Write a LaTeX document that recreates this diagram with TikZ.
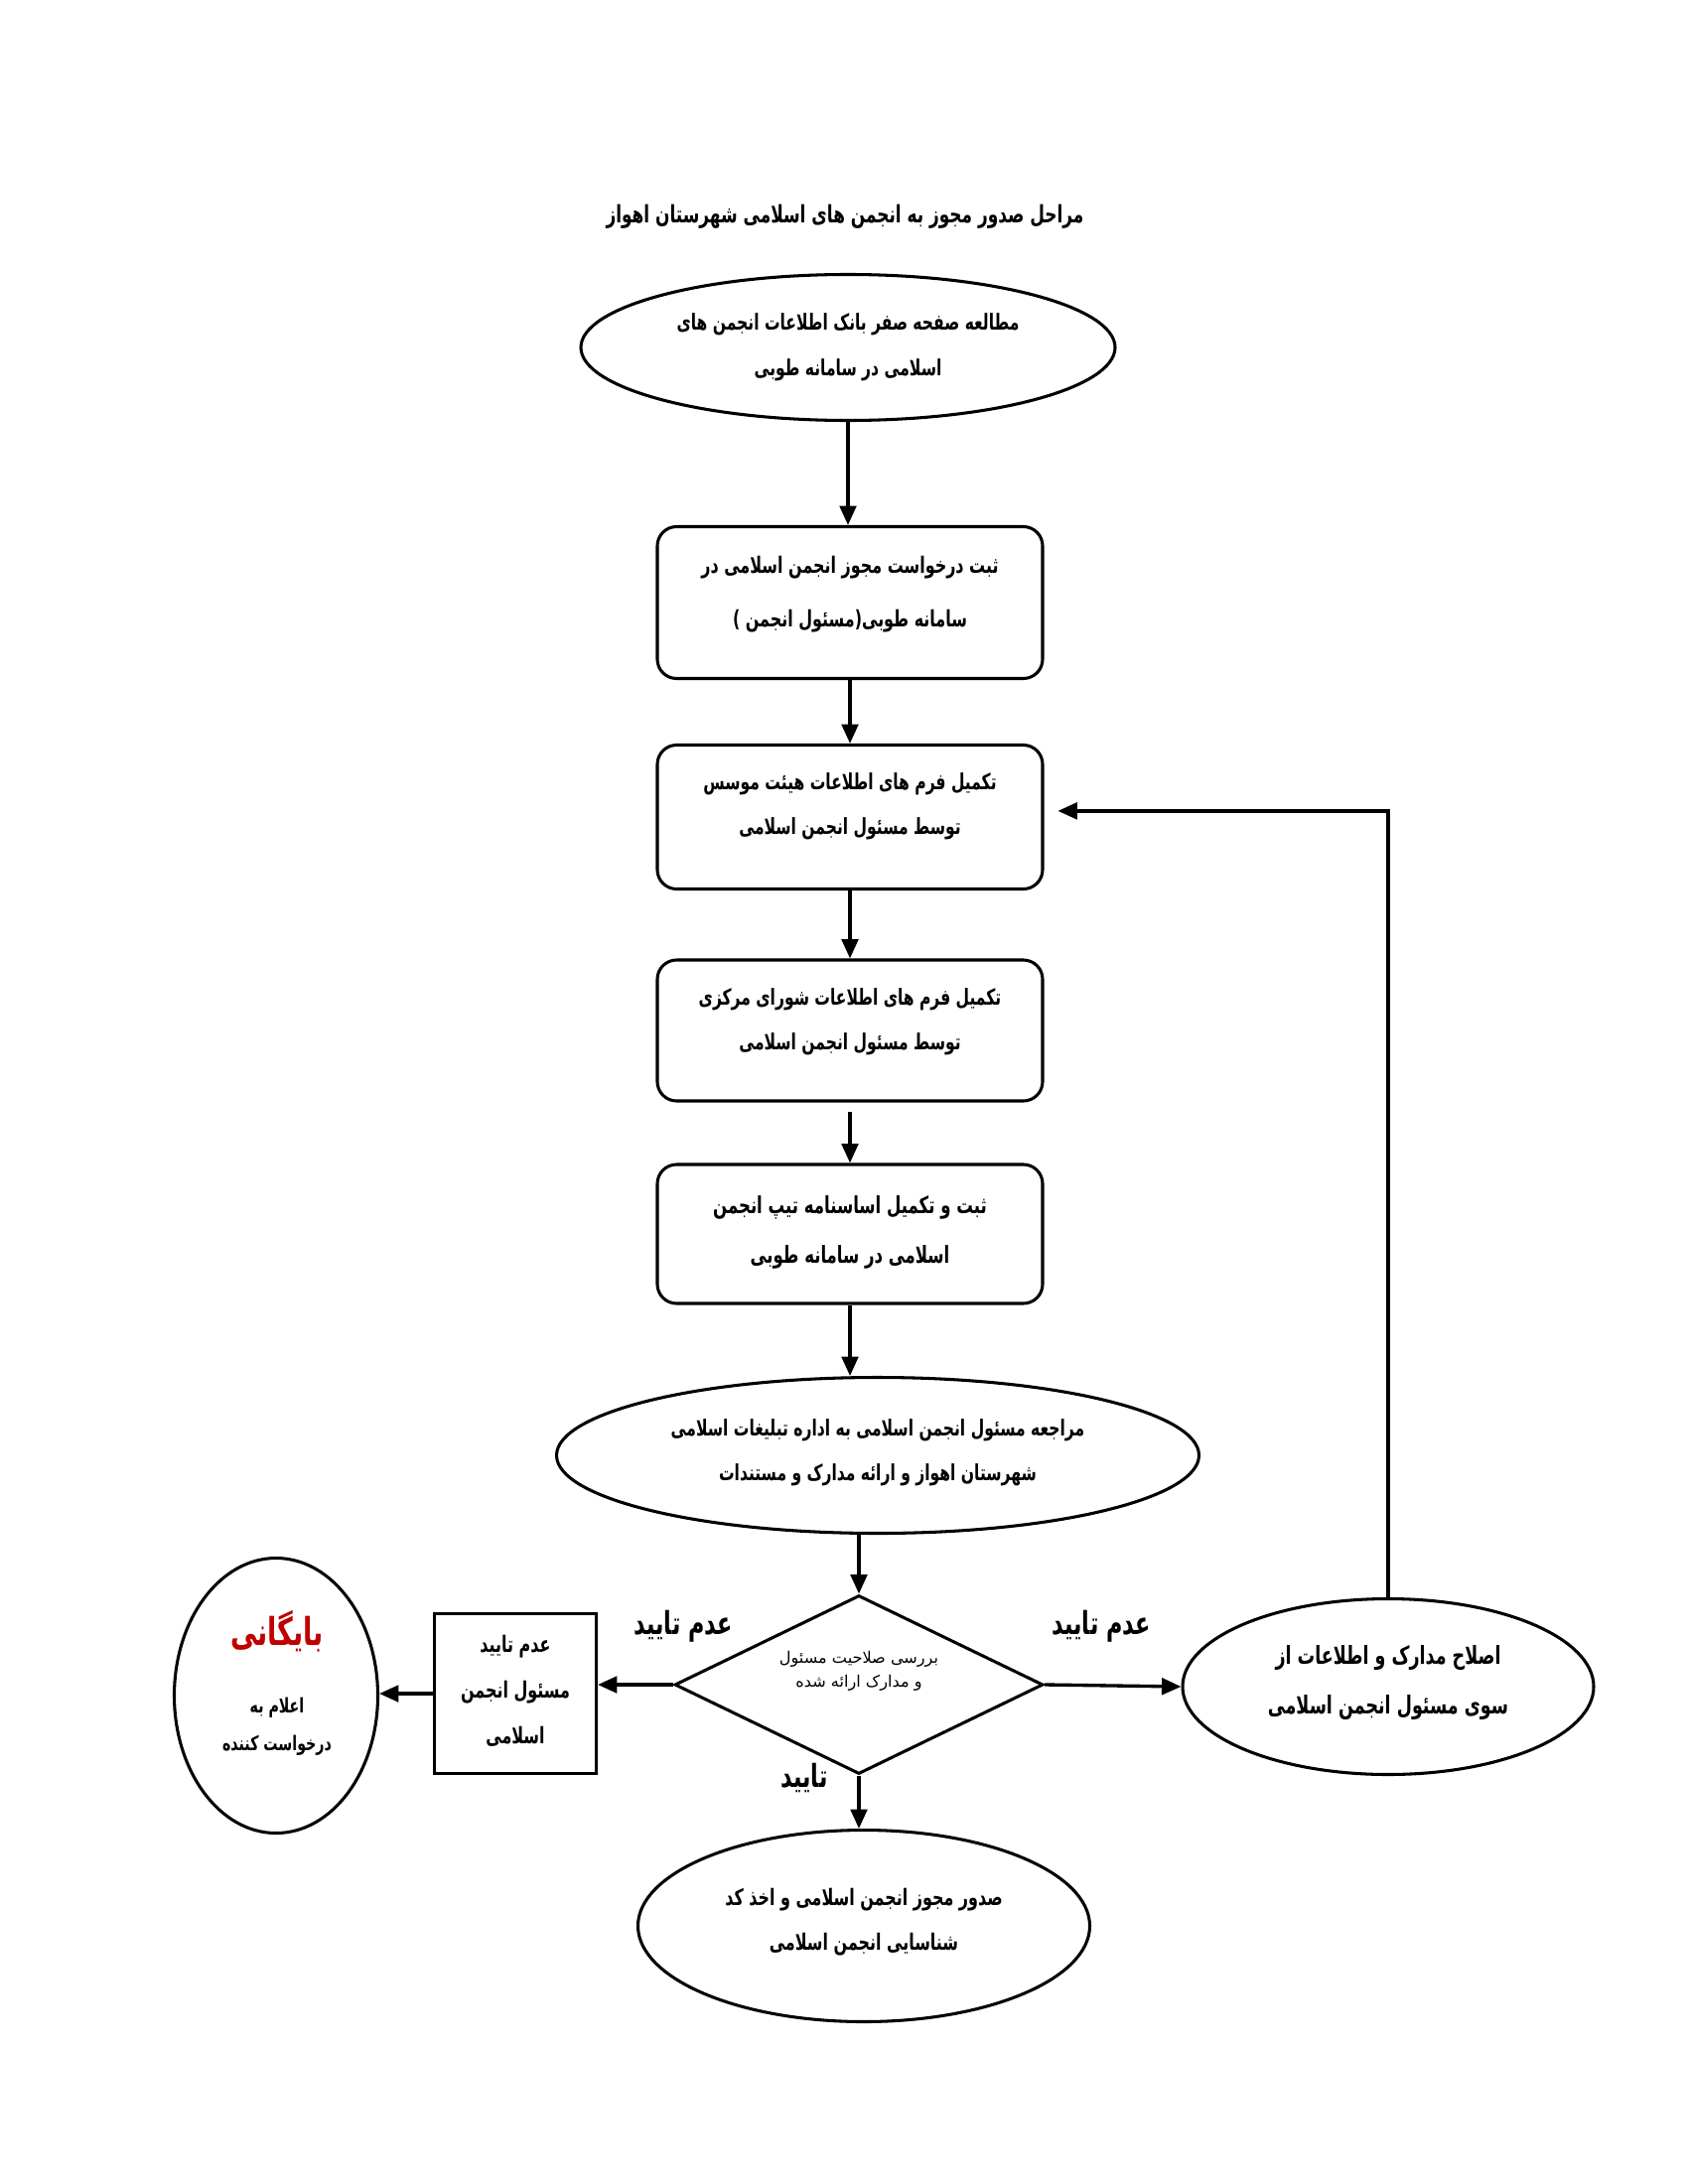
\documentclass[tikz,border=0pt]{standalone}
\usepackage{fontspec}
\usetikzlibrary{shapes.geometric,arrows.meta}
\newfontfamily\arabicfont[Script=Arabic,FakeStretch=0.7]{DejaVu Sans}
\newfontfamily\arabicplain[Script=Arabic]{DejaVu Sans}
\TeXXeTstate=1
\newcommand{\rtl}[1]{\beginR #1\endR}
\newcommand{\fs}[2]{\fontsize{#1}{#2}\selectfont}
\definecolor{archred}{HTML}{C00000}
\begin{document}
\begin{tikzpicture}[x=0.36pt,y=-0.36pt,
  shp/.style={draw, line width=1.1pt, inner sep=0pt},
  ell/.style={ellipse, shp},
  rbox/.style={rectangle, rounded corners=7pt, shp, minimum width={388*0.36pt}},
  sbox/.style={rectangle, shp},
  dec/.style={diamond, shp, aspect=2},
  txt/.style={inner sep=0pt, align=center, font=\arabicfont\bfseries},
  lbl/.style={inner sep=0pt, font=\arabicfont\bfseries\fs{11.5}{13}},
  arr/.style={-{Triangle[length=7pt,width=6pt]}, line width=1.2pt}
]
\useasboundingbox (0,0) rectangle (1700,2200);
\fill[white] (0,0) rectangle (1700,2200);

% title
\node[txt, font=\arabicfont\bfseries\fs{8.7}{11}] (title) at (851,218)
  {\rtl{مراحل صدور مجوز به انجمن های اسلامی شهرستان اهواز}};

% shapes
\node[ell, minimum width={538*0.36pt}, minimum height={147*0.36pt}] (e1) at (854,350) {};
\node[rbox, minimum height={153*0.36pt}] (b2) at (856,607) {};
\node[rbox, minimum height={145*0.36pt}] (b3) at (856,823) {};
\node[rbox, minimum height={142*0.36pt}] (b4) at (856,1038) {};
\node[rbox, minimum height={140*0.36pt}] (b5) at (856,1243) {};
\node[ell, minimum width={647*0.36pt}, minimum height={157*0.36pt}] (e6) at (884,1466) {};
\node[dec, minimum width={371*0.36pt}, minimum height={180*0.36pt}] (d) at (865,1697) {};
\node[sbox, minimum width={163*0.36pt}, minimum height={161*0.36pt}] (b7) at (519,1706) {};
\node[ell, minimum width={205*0.36pt}, minimum height={277*0.36pt}] (e9) at (278,1708) {};
\node[ell, minimum width={414*0.36pt}, minimum height={177*0.36pt}] (e8) at (1398,1699) {};
\node[ell, minimum width={455*0.36pt}, minimum height={193*0.36pt}] (e10) at (870,1940) {};

% texts
\node[txt, font=\arabicfont\bfseries\fs{8}{16.7}] (e1t) at (e1.center)
  {\rtl{مطالعه صفحه صفر بانک اطلاعات انجمن های}\\\rtl{اسلامی در سامانه طوبی}};
\node[txt, font=\arabicfont\bfseries\fs{8.2}{19.7}] (b2t) at ([yshift=3pt]b2.center)
  {\rtl{ثبت درخواست مجوز انجمن اسلامی در}\\\rtl{سامانه طوبی\beginL(\endL مسئول انجمن \beginL)\endL}};
\node[txt, font=\arabicfont\bfseries\fs{8}{16.2}] (b3t) at ([yshift=3.8pt]b3.center)
  {\rtl{تکمیل فرم های اطلاعات هیئت موسس}\\\rtl{توسط مسئول انجمن اسلامی}};
\node[txt, font=\arabicfont\bfseries\fs{8}{16.2}] (b4t) at ([yshift=3.3pt]b4.center)
  {\rtl{تکمیل فرم های اطلاعات شورای مرکزی}\\\rtl{توسط مسئول انجمن اسلامی}};
\node[txt, font=\arabicfont\bfseries\fs{8.5}{18.2}] (b5t) at ([yshift=0.5pt]b5.center)
  {\rtl{ثبت و تکمیل اساسنامه تیپ انجمن}\\\rtl{اسلامی در سامانه طوبی}};
\node[txt, font=\arabicfont\bfseries\fs{8}{16.2}] (e6t) at ([yshift=1pt]e6.center)
  {\rtl{مراجعه مسئول انجمن اسلامی  به اداره تبلیغات اسلامی}\\\rtl{شهرستان اهواز و ارائه مدارک و مستندات}};
\node[txt, font=\arabicplain\fs{5.8}{8.6}] (dt) at ([yshift=5pt]d.center)
  {\rtl{بررسی صلاحیت مسئول}\\\rtl{و مدارک ارائه شده}};
\node[txt, font=\arabicfont\bfseries\fs{8.2}{16.4}] (b7t) at ([yshift=1pt]b7.center)
  {\rtl{عدم تایید}\\\rtl{مسئول انجمن}\\\rtl{اسلامی}};
\node[txt, font=\arabicfont\bfseries\fs{8.2}{16.2}] (e10t) at ([yshift=1.5pt]e10.center)
  {\rtl{صدور مجوز انجمن اسلامی و اخذ کد}\\\rtl{شناسایی انجمن اسلامی}};
\node[txt, font=\arabicfont\bfseries\fs{9}{18.2}] (e8t) at ([yshift=1.5pt]e8.center)
  {\rtl{اصلاح مدارک و اطلاعات از}\\\rtl{سوی مسئول انجمن اسلامی}};
\node[txt, text=archred, font=\arabicfont\bfseries\fs{13.9}{16}] (e9a) at (279,1643) {\rtl{بایگانی}};
\node[txt, font=\arabicfont\bfseries\fs{7.3}{9}] (e9b) at (279,1720) {\rtl{اعلام به}};
\node[txt, font=\arabicfont\bfseries\fs{7.3}{9}] (e9c) at (279,1758) {\rtl{درخواست کننده}};

% labels
\node[lbl] (l1) at (688,1638) {\rtl{عدم تایید}};
\node[lbl] (l2) at (1109,1638) {\rtl{عدم تایید}};
\node[lbl] (l3) at (810,1791) {\rtl{تایید}};

% connectors
\draw[arr] (e1.south) -- (e1.south |- b2.north);
\draw[arr] (b2.south) -- (b3.north);
\draw[arr] (b3.south) -- (b4.north);
\draw[arr] ([yshift=-3.5pt]b4.south) -- (b5.north);
\draw[arr] (b5.south) -- (b5.south |- e6.north);
\draw[arr] (d.north |- e6.south) -- (d.north);
\draw[arr] (d.west) -- (d.west -| b7.east);
\draw[arr] (b7.west) -- (b7.west -| e9.east);
\draw[arr] (d.east) -- (e8.west);
\draw[arr] (d.south) -- (d.south |- e10.north);
\draw[arr] (e8.north) |- ([xshift=5pt,yshift=2.2pt]b3.east);
\end{tikzpicture}
\end{document}
